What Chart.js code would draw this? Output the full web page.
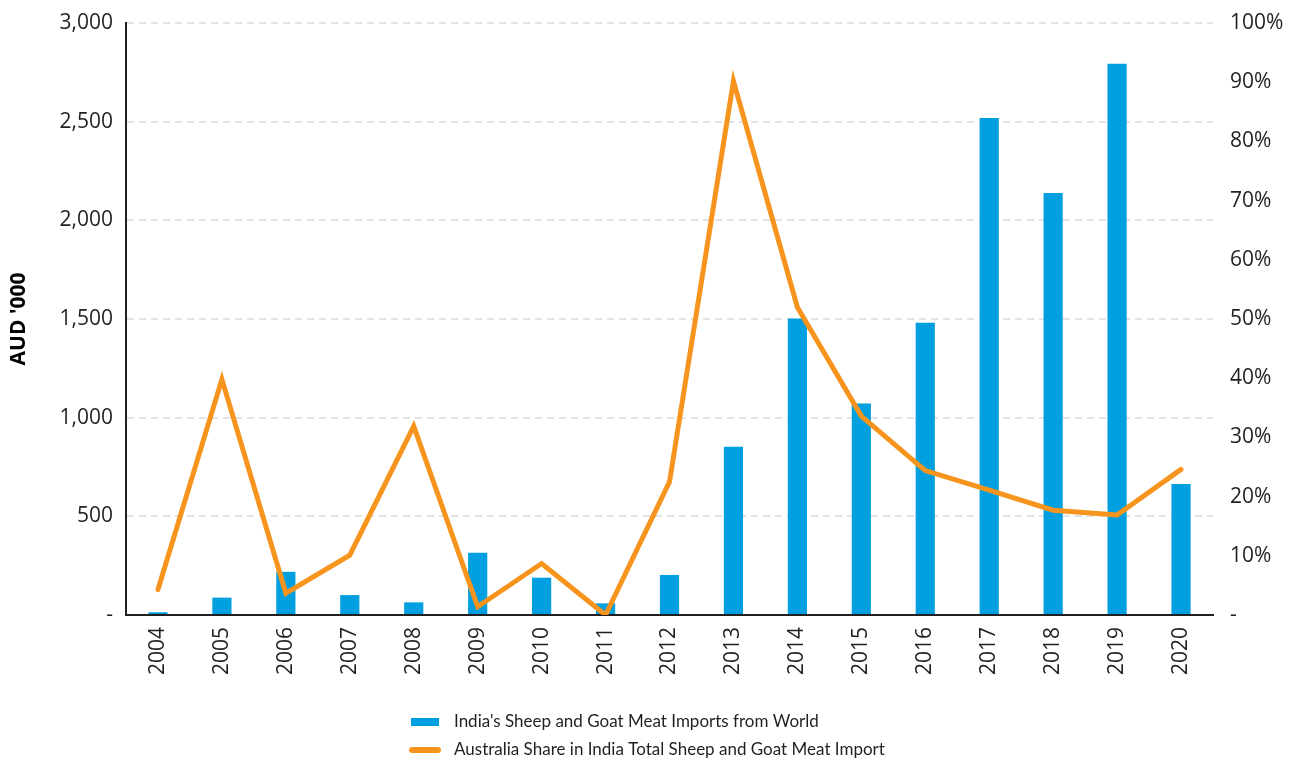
<!DOCTYPE html>
<html>
<head>
<meta charset="utf-8">
<title>India sheep and goat meat imports</title>
<script src="https://cdn.jsdelivr.net/npm/chart.js@4.4.1/dist/chart.umd.min.js"></script>
<style>
  html, body { margin: 0; padding: 0; background: #fff; }
  #wrap { width: 1306px; height: 766px; position: relative; }
</style>
</head>
<body>
<div id="wrap"><canvas id="chart"></canvas></div>
<script>
const years = ['2004', '2005', '2006', '2007', '2008', '2009', '2010', '2011', '2012',
  '2013', '2014', '2015', '2016', '2017', '2018', '2019', '2020'];

// AUD '000
const importsFromWorld = [14, 88, 219, 101, 64, 316, 189, 59, 203,
  852, 1503, 1072, 1481, 2519, 2139, 2794, 664];

// percent of India's total
const australiaShare = [4.3, 39.8, 3.7, 10.1, 31.9, 1.4, 8.7, 0, 22.5,
  90.2, 52.0, 33.6, 24.4, 21.1, 17.7, 16.9, 24.6];

const seriesNames = [
  "India's Sheep and Goat Meat Imports from World",
  'Australia Share in India Total Sheep and Goat Meat Import'
];

const textColor = '#231f20';
const tickFont = { family: 'Open Sans', size: 21 };

// legend stacked in a column under the x labels
const bottomLegend = {
  id: 'bottomLegend',
  afterDraw(chart) {
    const ctx = chart.ctx;
    const [bars, line] = chart.data.datasets;
    const left = chart.chartArea.left + 285;
    const row1 = chart.chartArea.bottom + 107;
    const row2 = chart.chartArea.bottom + 135;
    ctx.save();
    ctx.fillStyle = bars.backgroundColor;
    ctx.fillRect(left, row1 - 4, 28, 8);
    ctx.strokeStyle = line.borderColor;
    ctx.lineWidth = 6;
    ctx.lineCap = 'round';
    ctx.beginPath();
    ctx.moveTo(left + 1, row2);
    ctx.lineTo(left + 27, row2);
    ctx.stroke();
    ctx.fillStyle = textColor;
    ctx.font = '17px Lato';
    ctx.textBaseline = 'middle';
    ctx.fillText(bars.label, left + 43, row1);
    ctx.fillText(line.label, left + 43, row2);
    ctx.restore();
  }
};

// vertical axes: fixed width, and no extra label padding at the top
const fixVertical = width => s => {
  s.width = width;
  s.paddingTop = 0;
};

new Chart(document.getElementById('chart'), {
  data: {
    labels: years,
    datasets: [
      {
        type: 'bar',
        label: seriesNames[0],
        data: importsFromWorld,
        backgroundColor: '#009fdf',
        categoryPercentage: 1,
        barPercentage: 0.3,
        yAxisID: 'y',
        order: 1
      },
      {
        type: 'line',
        label: seriesNames[1],
        data: australiaShare,
        borderColor: '#f7941d',
        borderWidth: 5,
        borderCapStyle: 'round',
        pointRadius: 0,
        tension: 0,
        yAxisID: 'y1',
        order: 0
      }
    ]
  },
  options: {
    responsive: true,
    maintainAspectRatio: false,
    animation: false,
    layout: { padding: { top: 23, left: 0, right: 0, bottom: 0 } },
    plugins: {
      legend: { display: false },
      tooltip: { enabled: false }
    },
    scales: {
      x: {
        offset: true,
        grid: { display: false, drawTicks: false },
        border: { display: true, color: textColor, width: 2 },
        ticks: { minRotation: 90, maxRotation: 90, padding: 12, color: textColor, font: tickFont },
        afterFit: s => { s.height = 151; }
      },
      y: {
        position: 'left',
        min: 0,
        max: 3000,
        ticks: {
          stepSize: 500,
          padding: 13,
          color: textColor,
          font: tickFont,
          callback: v => v === 0 ? '-' : v.toLocaleString('en-US')
        },
        grid: { color: '#e3e3e3', lineWidth: 2, drawTicks: false },
        border: { color: textColor, width: 2, dash: [7, 5] },
        title: {
          display: true,
          text: "AUD '000",
          color: '#000',
          font: { family: 'Open Sans', size: 21, weight: 'bold' },
          padding: { top: 6, bottom: 0 }
        },
        afterFit: fixVertical(126)
      },
      y1: {
        position: 'right',
        min: 0,
        max: 100,
        ticks: {
          stepSize: 10,
          padding: 17,
          color: textColor,
          font: tickFont,
          callback: v => v === 0 ? '-' : v + '%'
        },
        grid: { display: false, drawTicks: false },
        border: { display: false },
        afterFit: fixVertical(93)
      }
    }
  },
  plugins: [bottomLegend]
});
</script>
</body>
</html>
